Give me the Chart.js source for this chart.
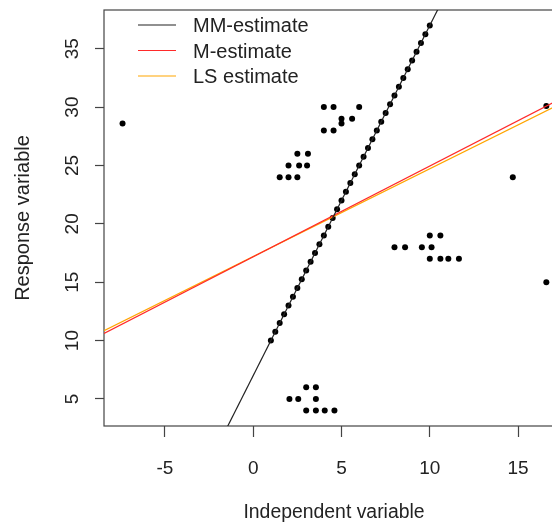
<!DOCTYPE html>
<html>
<head>
<meta charset="utf-8">
<script src="https://cdn.jsdelivr.net/npm/chart.js@4/dist/chart.umd.min.js"></script>
<style>
  html, body { margin: 0; padding: 0; background: #fff; overflow: hidden; }
  /* the plotting frame runs slightly past the right edge of the view */
  #wrap { width: 552px; height: 524px; overflow: hidden; }
  #chart { display: block; }
</style>
</head>
<body>
<div id="wrap"><canvas id="chart" width="566" height="524"></canvas></div>
<script>
// Observations lying along the main trend
const trendX = [1, 1.25, 1.5, 1.75, 2, 2.25, 2.5, 2.75, 3, 3.25, 3.5, 3.75, 4, 4.25, 4.5, 4.75,
                5, 5.25, 5.5, 5.75, 6, 6.25, 6.5, 6.75, 7, 7.25, 7.5, 7.75, 8, 8.25, 8.5, 8.75,
                9, 9.25, 9.5, 9.75, 10];
const trendY = [10, 10.75, 11.5, 12.25, 13, 13.75, 14.5, 15.25, 16, 16.75, 17.5, 18.25, 19, 19.75,
                20.5, 21.25, 22, 22.75, 23.5, 24.25, 25, 25.75, 26.5, 27.25, 28, 28.75, 29.5,
                30.25, 31, 31.75, 32.5, 33.25, 34, 34.75, 35.5, 36.25, 37];

// Contaminating observations (clusters and isolated outliers)
const otherX = [1.5, 2, 2.5, 2, 2.6, 3.05, 2.5, 3.1,
                4, 4.55, 6, 5, 5.6, 5, 4, 4.55,
                3, 3.55, 2.05, 2.55, 3.55, 3, 3.55, 4.05, 4.6,
                10, 10.6, 8, 8.6, 9.55, 10.1, 10, 10.6, 11.05, 11.65,
                -7.4, 14.7, 16.6, 16.6];
const otherY = [24, 24, 24, 25, 25, 25, 26, 26,
                30, 30, 30, 29, 29, 28.6, 28, 28,
                6, 6, 5, 5, 5, 4, 4, 4, 4,
                19, 19, 18, 18, 18, 18, 17, 17, 17, 17,
                28.6, 24, 30.1, 15];

// Fitted regression lines: intercept and slope of each estimator
const fitNames = ['MM-estimate', 'M-estimate', 'LS estimate'];
const fitIntercepts = [7, 17.18, 17.2];
const fitSlopes = [3, 0.7775, 0.7515];
const fitColors = ['#222222', '#ff2a2a', '#ffa500'];

// Axis ticks
const xTicks = [-5, 0, 5, 10, 15];
const yTicks = [5, 10, 15, 20, 25, 30, 35];

const X_MIN = -8.45, X_MAX = 17.6;
const Y_MIN = 2.68, Y_MAX = 38.32;
const FONT = "'Liberation Sans', Arial, Helvetica, sans-serif";
const INK = '#222222';

const points = trendX.map((x, i) => ({ x, y: trendY[i] }))
  .concat(otherX.map((x, i) => ({ x, y: otherY[i] })));

const fitDatasets = fitNames.map((name, i) => ({
  label: name,
  type: 'scatter',
  showLine: true,
  data: [X_MIN, X_MAX].map(x => ({ x, y: fitIntercepts[i] + fitSlopes[i] * x })),
  borderColor: fitColors[i],
  backgroundColor: fitColors[i],
  borderWidth: 1.2,
  pointRadius: 0,
  order: i
}));

// Frame around the plotting region
const frame = {
  id: 'frame',
  beforeDatasetsDraw(chart) {
    const { ctx, chartArea: a } = chart;
    ctx.save();
    ctx.strokeStyle = '#444';
    ctx.lineWidth = 1.2;
    ctx.strokeRect(a.left, a.top, a.right - a.left, a.bottom - a.top);
    ctx.restore();
  }
};

// Line-sample legend in the upper-left corner of the plot
const lineLegend = {
  id: 'lineLegend',
  afterDraw(chart) {
    const { ctx } = chart;
    ctx.save();
    ctx.font = '20px ' + FONT;
    ctx.textBaseline = 'middle';
    ctx.textAlign = 'left';
    chart.data.datasets.forEach(ds => {
      if (!ds.label) return;
      const row = ds.order;
      const y = 25 + row * 25.5;
      ctx.strokeStyle = ds.borderColor;
      ctx.lineWidth = 1.2;
      ctx.beginPath();
      ctx.moveTo(138, y);
      ctx.lineTo(176, y);
      ctx.stroke();
      ctx.fillStyle = INK;
      ctx.fillText(ds.label, 193, y + 1.5);
    });
    ctx.restore();
  }
};

new Chart(document.getElementById('chart'), {
  type: 'scatter',
  data: {
    datasets: fitDatasets.concat([{
      data: points,
      pointRadius: 3,
      pointHoverRadius: 3,
      pointBackgroundColor: '#000',
      pointBorderWidth: 0,
      showLine: false,
      order: 5
    }])
  },
  options: {
    responsive: false,
    animation: false,
    devicePixelRatio: 1,
    layout: { autoPadding: false, padding: { top: 10, right: 2, bottom: 0, left: 0 } },
    plugins: { legend: { display: false }, tooltip: { enabled: false } },
    scales: {
      x: {
        type: 'linear',
        min: X_MIN,
        max: X_MAX,
        afterBuildTicks: s => { s.ticks = xTicks.map(v => ({ value: v })); },
        afterFit: s => { s.height = 98; s.paddingLeft = 0; s.paddingRight = 0; },
        grid: { drawOnChartArea: false, drawTicks: true, tickLength: 11, tickColor: '#444', tickWidth: 1.2 },
        border: { display: false },
        ticks: { font: { family: FONT, size: 19 }, color: INK, padding: 20, maxRotation: 0, autoSkip: false },
        title: { display: true, text: 'Independent variable', color: INK,
                 font: { family: FONT, size: 19.4 }, padding: { top: 0, bottom: 0 } }
      },
      y: {
        type: 'linear',
        min: Y_MIN,
        max: Y_MAX,
        afterBuildTicks: s => { s.ticks = yTicks.map(v => ({ value: v })); },
        afterFit: s => { s.width = 104; s.paddingTop = 0; s.paddingBottom = 0; },
        grid: { drawOnChartArea: false, drawTicks: true, tickLength: 9, tickColor: '#444', tickWidth: 1.2 },
        border: { display: false },
        ticks: { font: { family: FONT, size: 19 }, color: INK, padding: 12, minRotation: 90, maxRotation: 90,
                 crossAlign: 'center', autoSkip: false },
        title: { display: true, text: 'Response variable', color: INK,
                 font: { family: FONT, size: 20 }, padding: { top: 11.5, bottom: 0 } }
      }
    }
  },
  plugins: [frame, lineLegend]
});
</script>
</body>
</html>
